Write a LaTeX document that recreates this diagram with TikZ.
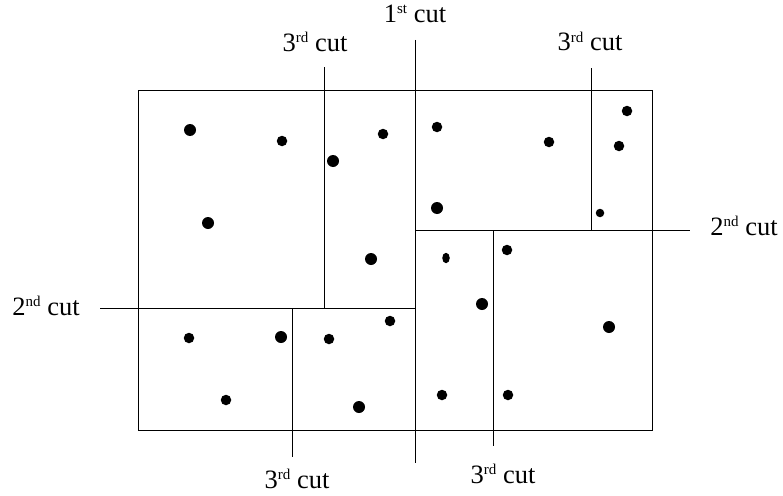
\documentclass[tikz,border=0pt]{standalone}
\usepackage{fontspec}
\setmainfont{Liberation Serif}
\usetikzlibrary{positioning}
\usetikzlibrary{shapes.geometric}

\newcommand{\cutord}[2]{#1\raisebox{9pt}{\fontsize{15}{15}\selectfont #2}}

\begin{document}
\begin{tikzpicture}[x=1pt, y=-1pt, line width=0.9pt,
    every node/.style={circle, fill=black, inner sep=0pt, minimum size=10.5pt},
    big/.style={minimum size=12pt}, small/.style={minimum size=8.5pt},
    lbl/.style={rectangle, fill=none, minimum size=0pt, anchor=base, font=\fontsize{26.5}{30}\selectfont}]
        \useasboundingbox (0,0) rectangle (783,495);

        % the region
        \coordinate (nw) at (138, 90);
        \coordinate (se) at (652, 430);
        \draw (nw) rectangle (se);

        % cut ends
        \coordinate (c1a) at (415, 40);
        \coordinate (c1b) at (415, 463);
        \coordinate (c2la) at (100, 308);
        \coordinate (c2lb) at (415, 308);
        \coordinate (c2ra) at (415, 230);
        \coordinate (c2rb) at (690, 230);
        \coordinate (c3tla) at (324, 67);
        \coordinate (c3tlb) at (324, 308);
        \coordinate (c3tra) at (591, 68);
        \coordinate (c3trb) at (591, 230);
        \coordinate (c3bla) at (292, 308);
        \coordinate (c3blb) at (292, 457);
        \coordinate (c3bra) at (493, 230);
        \coordinate (c3brb) at (493, 446);

        \draw (c1a) -- (c1b);
        \draw (c2la) -- (c2lb);
        \draw (c2ra) -- (c2rb);
        \draw (c3tla) -- (c3tlb);
        \draw (c3tra) -- (c3trb);
        \draw (c3bla) -- (c3blb);
        \draw (c3bra) -- (c3brb);

        % labels
        \node[lbl] (l1) at (415, 23) {\cutord{1}{st} cut};
        \node[lbl] (l2l) at (46, 315) {\cutord{2}{nd} cut};
        \node[lbl] (l2r) at (744, 235) {\cutord{2}{nd} cut};
        \node[lbl] (l3tl) at (315, 52) {\cutord{3}{rd} cut};
        \node[lbl] (l3tr) at (590, 51) {\cutord{3}{rd} cut};
        \node[lbl] (l3bl) at (297, 488) {\cutord{3}{rd} cut};
        \node[lbl] (l3br) at (503, 483) {\cutord{3}{rd} cut};

        % points
        \node[big] (p1) at (190, 130) {};
        \node (p2) at (282, 141) {};
        \node (p3) at (383, 134) {};
        \node[big] (p4) at (333, 161) {};
        \node[big] (p5) at (208, 223) {};
        \node[big] (p6) at (371, 259) {};
        \node (p7) at (437, 127) {};
        \node (p8) at (549, 142) {};
        \node (p9) at (627, 111) {};
        \node (p10) at (619, 146) {};
        \node[big] (p11) at (437, 208) {};
        \node[small] (p12) at (600, 213) {};
        \node[ellipse, minimum width=7.5pt, minimum height=10.5pt] (p13) at (446, 258) {};
        \node (p14) at (507, 250) {};
        \node[big] (p15) at (482, 304) {};
        \node[big] (p16) at (609, 327) {};
        \node (p17) at (189, 338) {};
        \node[big] (p18) at (281, 337) {};
        \node (p19) at (329, 339) {};
        \node (p20) at (390, 321) {};
        \node (p21) at (226, 400) {};
        \node[big] (p22) at (359, 407) {};
        \node (p23) at (442, 395) {};
        \node (p24) at (508, 395) {};
      \end{tikzpicture}
\end{document}
